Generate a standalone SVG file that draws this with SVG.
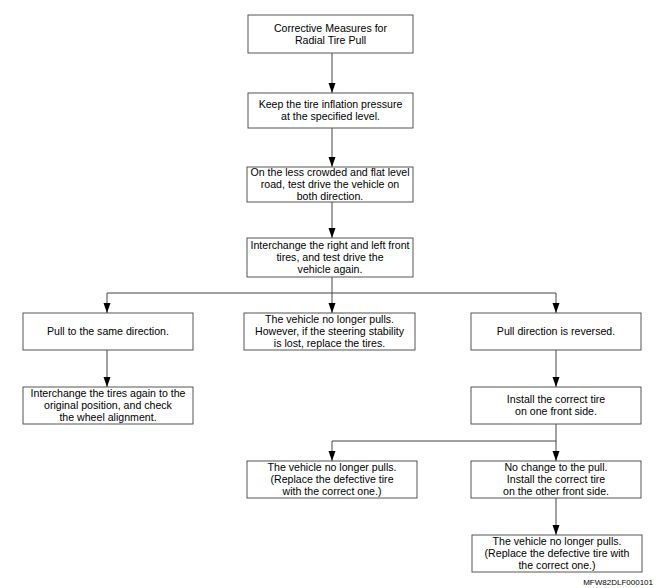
<svg xmlns="http://www.w3.org/2000/svg" width="663" height="588" viewBox="0 0 663 588">
<defs>
<marker id="ah" markerUnits="userSpaceOnUse" markerWidth="10" markerHeight="8" refX="10" refY="3.5" orient="auto">
<path d="M0,0 L10,3.5 L0,7 Z" fill="#000"/>
</marker>
<style>
.box{fill:#fff;stroke:#555;stroke-width:1}
.t{font-family:"Liberation Sans",Arial,sans-serif;font-size:10.6px;fill:#000;text-anchor:middle}
.c{fill:none;stroke:#444;stroke-width:1}
.ar{marker-end:url(#ah)}
.id{font-family:"Liberation Sans",Arial,sans-serif;font-size:8px;fill:#000;text-anchor:end}
</style>
</defs>
<rect width="663" height="588" fill="#fff"/>
<g id="connectors">
<path class="c ar" d="M332,53 V93"/>
<path class="c ar" d="M332,128 V167"/>
<path class="c ar" d="M332,202 V238"/>
<path class="c ar" d="M332,277 V313"/>
<path class="c" d="M107,293 H556"/>
<path class="c ar" d="M107,293 V313"/>
<path class="c ar" d="M556,293 V313"/>
<path class="c ar" d="M107,350 V387"/>
<path class="c ar" d="M556,350 V387"/>
<path class="c ar" d="M556,424 V461"/>
<path class="c" d="M332,441 H556"/>
<path class="c ar" d="M332,441 V461"/>
<path class="c ar" d="M556,498 V535"/>
</g>
<g id="n1"><rect class="box" x="248" y="15" width="165" height="38"/>
<text class="t" x="330.5" y="31.5">Corrective Measures for</text><text class="t" x="330.5" y="43.5">Radial Tire Pull</text></g>
<g id="n2"><rect class="box" x="248" y="93" width="165" height="35"/>
<text class="t" x="330.5" y="108">Keep the tire inflation pressure</text><text class="t" x="330.5" y="120">at the specified level.</text></g>
<g id="n3"><rect class="box" x="247" y="167" width="166" height="35"/>
<text class="t" x="330" y="176">On the less crowded and flat level</text><text class="t" x="330" y="188">road, test drive the vehicle on</text><text class="t" x="330" y="200">both direction.</text></g>
<g id="n4"><rect class="box" x="247" y="238" width="166" height="39"/>
<text class="t" x="330" y="249">Interchange the right and left front</text><text class="t" x="330" y="261">tires, and test drive the</text><text class="t" x="330" y="273">vehicle again.</text></g>
<g id="n5"><rect class="box" x="23" y="313" width="170" height="37"/>
<text class="t" x="108" y="335">Pull to the same direction.</text></g>
<g id="n6"><rect class="box" x="244" y="313" width="171" height="37"/>
<text class="t" x="329.5" y="323">The vehicle no longer pulls.</text><text class="t" x="329.5" y="335">However, if the steering stability</text><text class="t" x="329.5" y="347">is lost, replace the tires.</text></g>
<g id="n7"><rect class="box" x="471" y="313" width="170" height="37"/>
<text class="t" x="556" y="335">Pull direction is reversed.</text></g>
<g id="n8"><rect class="box" x="23" y="387" width="170" height="37"/>
<text class="t" x="108" y="397">Interchange the tires again to the</text><text class="t" x="108" y="409">original position, and check</text><text class="t" x="108" y="421">the wheel alignment.</text></g>
<g id="n9"><rect class="box" x="471" y="387" width="170" height="37"/>
<text class="t" x="556" y="403">Install the correct tire</text><text class="t" x="556" y="415">on one front side.</text></g>
<g id="n10"><rect class="box" x="247" y="461" width="170" height="37"/>
<text class="t" x="332" y="471">The vehicle no longer pulls.</text><text class="t" x="332" y="483">(Replace the defective tire</text><text class="t" x="332" y="495">with the correct one.)</text></g>
<g id="n11"><rect class="box" x="471" y="461" width="170" height="37"/>
<text class="t" x="556" y="471">No change to the pull.</text><text class="t" x="556" y="483">Install the correct tire</text><text class="t" x="556" y="495">on the other front side.</text></g>
<g id="n12"><rect class="box" x="472" y="535" width="170" height="37"/>
<text class="t" x="557" y="545">The vehicle no longer pulls.</text><text class="t" x="557" y="557">(Replace the defective tire with</text><text class="t" x="557" y="569">the correct one.)</text></g>
<text class="id" x="653" y="585">MFW82DLF000101</text>
</svg>
